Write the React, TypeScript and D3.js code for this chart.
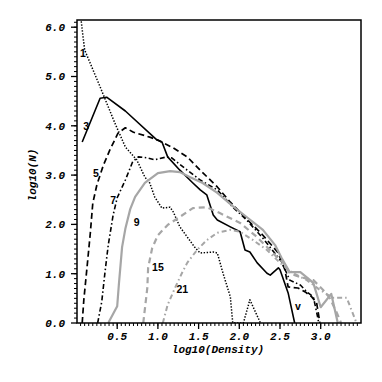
import React from "react";
import * as d3 from "d3";

// log10(Density) / log10(N) pairs, one array per curve
const s1: [number, number][] = [
  [0.045, 6.3], [0.1, 5.54], [0.29, 4.79], [0.47, 4.06], [0.6, 3.57], [0.74, 3.31],
  [0.84, 2.96], [0.9, 2.84], [0.96, 2.56], [1.05, 2.33], [1.15, 2.35], [1.19, 2.25],
  [1.27, 1.95], [1.46, 1.52], [1.52, 1.42], [1.68, 1.44], [1.73, 1.42], [1.8, 1.01],
  [1.89, 0.53], [1.92, 0], [2.05, 0], [2.13, 0.47], [2.26, 0],
];
const s3: [number, number][] = [
  [0.07, 3.67], [0.29, 4.56], [0.37, 4.58], [0.6, 4.3], [0.99, 3.71], [1.05, 3.67],
  [1.12, 3.37], [1.27, 3.1], [1.43, 2.84], [1.52, 2.7], [1.6, 2.6], [1.68, 2.19],
  [1.73, 2.09], [1.89, 1.95], [2.01, 1.85], [2.07, 1.48], [2.13, 1.44], [2.22, 1.22],
  [2.34, 1.01], [2.38, 0.97], [2.48, 1.12], [2.5, 1.08], [2.6, 0.61], [2.68, 0],
];
const s5: [number, number][] = [
  [0.07, 0], [0.09, 0.47], [0.13, 1.14], [0.17, 1.83], [0.2, 2.43], [0.25, 2.8],
  [0.33, 3.2], [0.41, 3.51], [0.51, 3.85], [0.6, 3.96], [0.7, 3.87], [0.9, 3.77],
  [1.0, 3.71], [1.19, 3.55], [1.36, 3.37], [1.52, 3.1], [1.73, 2.76], [1.89, 2.45],
  [2.09, 2.11], [2.29, 1.78], [2.48, 1.42], [2.56, 1.08], [2.6, 0.73], [2.72, 0.71],
  [2.81, 0.63], [2.89, 0.53], [2.95, 0.41], [2.99, 0],
];
const s7: [number, number][] = [
  [0.26, 0], [0.31, 0.43], [0.35, 1.03], [0.39, 1.58], [0.45, 2.19], [0.5, 2.54],
  [0.6, 2.9], [0.69, 3.27], [0.76, 3.37], [0.87, 3.35], [0.96, 3.31], [1.11, 3.37],
  [1.17, 3.35], [1.23, 3.27], [1.36, 3.1], [1.52, 2.9], [1.73, 2.7], [1.92, 2.35],
  [2.09, 2.09], [2.29, 1.72], [2.52, 1.24], [2.62, 0.87], [2.75, 0.77], [2.83, 0.63],
  [2.91, 0.53], [2.97, 0.06], [2.97, 0],
];
const s9: [number, number][] = [
  [0.39, 0], [0.5, 0.34], [0.52, 0.77], [0.56, 1.54], [0.6, 1.91], [0.66, 2.31],
  [0.72, 2.56], [0.84, 2.84], [1.0, 3.04], [1.15, 3.08], [1.27, 3.06], [1.39, 2.96],
  [1.55, 2.84], [1.73, 2.64], [1.92, 2.37], [2.09, 2.15], [2.29, 1.89], [2.44, 1.58],
  [2.52, 1.32], [2.62, 1.03], [2.75, 1.03], [2.87, 0.87], [2.91, 0.81], [3.0, 0.32],
  [3.13, 0.59], [3.21, 0],
];
const s15: [number, number][] = [
  [0.82, 0], [0.87, 0.71], [0.88, 1.12], [0.93, 1.52], [1.0, 1.78], [1.12, 1.99],
  [1.25, 2.13], [1.43, 2.33], [1.6, 2.35], [1.76, 2.23], [2.01, 2.03], [2.22, 1.74],
  [2.34, 1.54], [2.46, 1.34], [2.54, 1.22], [2.62, 1.01], [2.75, 0.93], [2.91, 0.87],
  [3.03, 0.67], [3.11, 0.51], [3.2, 0.2], [3.25, 0],
];
const s21: [number, number][] = [
  [1.06, 0], [1.12, 0.37], [1.21, 0.71], [1.3, 1.03], [1.36, 1.22], [1.48, 1.48],
  [1.6, 1.68], [1.73, 1.83], [1.89, 1.89], [2.01, 1.85], [2.17, 1.68], [2.34, 1.48],
  [2.5, 1.22], [2.66, 1.01], [2.83, 0.87], [2.99, 0.67], [3.15, 0.51], [3.32, 0.51],
  [3.44, 0],
];

const xMajor = [0.5, 1.0, 1.5, 2.0, 2.5, 3.0];
const yMajor = [0, 1, 2, 3, 4, 5, 6];
const xMinor = d3.range(1, 70).map((i) => i * 0.05);
const yMinor = d3.range(1, 62).map((i) => i * 0.1);

// curve labels: [text, x, y] in data units
const curveLabels: [string, number, number][] = [
  ["1", 0.08, 5.45], ["3", 0.12, 3.98], ["5", 0.24, 3.02], ["7", 0.45, 2.48],
  ["9", 0.74, 2.02], ["15", 1.0, 1.12], ["21", 1.3, 0.67], ["v", 2.72, 0.32],
];

const GRAY = "#a6a6a6";
const series = [
  { data: s1, color: "#000", width: 1.5, dash: "1.4,1.6" },
  { data: s3, color: "#000", width: 1.6, dash: "none" },
  { data: s5, color: "#000", width: 1.7, dash: "6,3.5" },
  { data: s7, color: "#000", width: 1.6, dash: "5,2.5,1.5,2.5" },
  { data: s9, color: GRAY, width: 2.2, dash: "none" },
  { data: s15, color: GRAY, width: 2.2, dash: "6,4" },
  { data: s21, color: GRAY, width: 2, dash: "5,3,1.5,3" },
];

export default function App() {
  const left = 77, right = 361, top = 20, bottom = 323;
  const x = d3.scaleLinear().domain([0, 3.5]).range([left - 0.5, left - 0.5 + 3.5 * 81.4]);
  const y = d3.scaleLinear().domain([0, 6]).range([bottom, bottom - 6 * 49.3]);
  const gen = d3.line<[number, number]>().x((d) => x(d[0])).y((d) => y(d[1]));
  const axisFont = "'Liberation Mono', 'DejaVu Sans Mono', monospace";

  return (
    <svg width={382} height={382} style={{ position: "absolute", left: 0, top: 0, background: "#fff" }}>
      <defs>
        <clipPath id="plot">
          <rect x={left} y={top} width={right - left} height={bottom - top} />
        </clipPath>
      </defs>

      <g clipPath="url(#plot)" fill="none">
        {series.map((s, i) => (
          <path key={i} d={gen(s.data) || ""} stroke={s.color} strokeWidth={s.width}
            strokeDasharray={s.dash} strokeLinejoin="round" />
        ))}
      </g>

      {curveLabels.map(([t, cx, cy]) => (
        <text key={t} x={x(cx)} y={y(cy)} fontFamily="'Liberation Sans', Arial, sans-serif"
          fontSize={10.5} fontWeight="bold" textAnchor="middle" dominantBaseline="middle">{t}</text>
      ))}

      {/* frame */}
      <rect x={left} y={top} width={right - left} height={bottom - top} fill="none" stroke="#000" strokeWidth={1.5} />

      {/* y ticks */}
      {yMinor.map((v) => (
        <line key={"ym" + v} x1={left - 3} x2={left} y1={y(v)} y2={y(v)} stroke="#000" strokeWidth={1} />
      ))}
      {yMajor.map((v) => (
        <g key={"y" + v}>
          <line x1={left - 6} x2={left} y1={y(v)} y2={y(v)} stroke="#000" strokeWidth={1.3} />
          <text x={left - 12} y={y(v)} dy="0.35em" textAnchor="end" fontFamily={axisFont}
            fontSize={11} fontWeight="bold" fontStyle="italic">{v.toFixed(1)}</text>
        </g>
      ))}

      {/* x ticks */}
      {xMinor.map((v) => (
        <line key={"xm" + v} x1={x(v)} x2={x(v)} y1={bottom} y2={bottom + 3} stroke="#000" strokeWidth={1} />
      ))}
      {xMajor.map((v) => (
        <g key={"x" + v}>
          <line x1={x(v)} x2={x(v)} y1={bottom} y2={bottom + 6} stroke="#000" strokeWidth={1.3} />
          <text x={x(v)} y={bottom + 17} textAnchor="middle" fontFamily={axisFont}
            fontSize={11} fontWeight="bold" fontStyle="italic">{v.toFixed(1)}</text>
        </g>
      ))}

      <text x={218} y={353} textAnchor="middle" fontFamily={axisFont} fontSize={11}
        fontWeight="bold" fontStyle="italic">log10(Density)</text>
      <text transform="translate(36,175) rotate(-90)" textAnchor="middle" fontFamily={axisFont}
        fontSize={11} fontWeight="bold" fontStyle="italic">log10(N)</text>
    </svg>
  );
}
